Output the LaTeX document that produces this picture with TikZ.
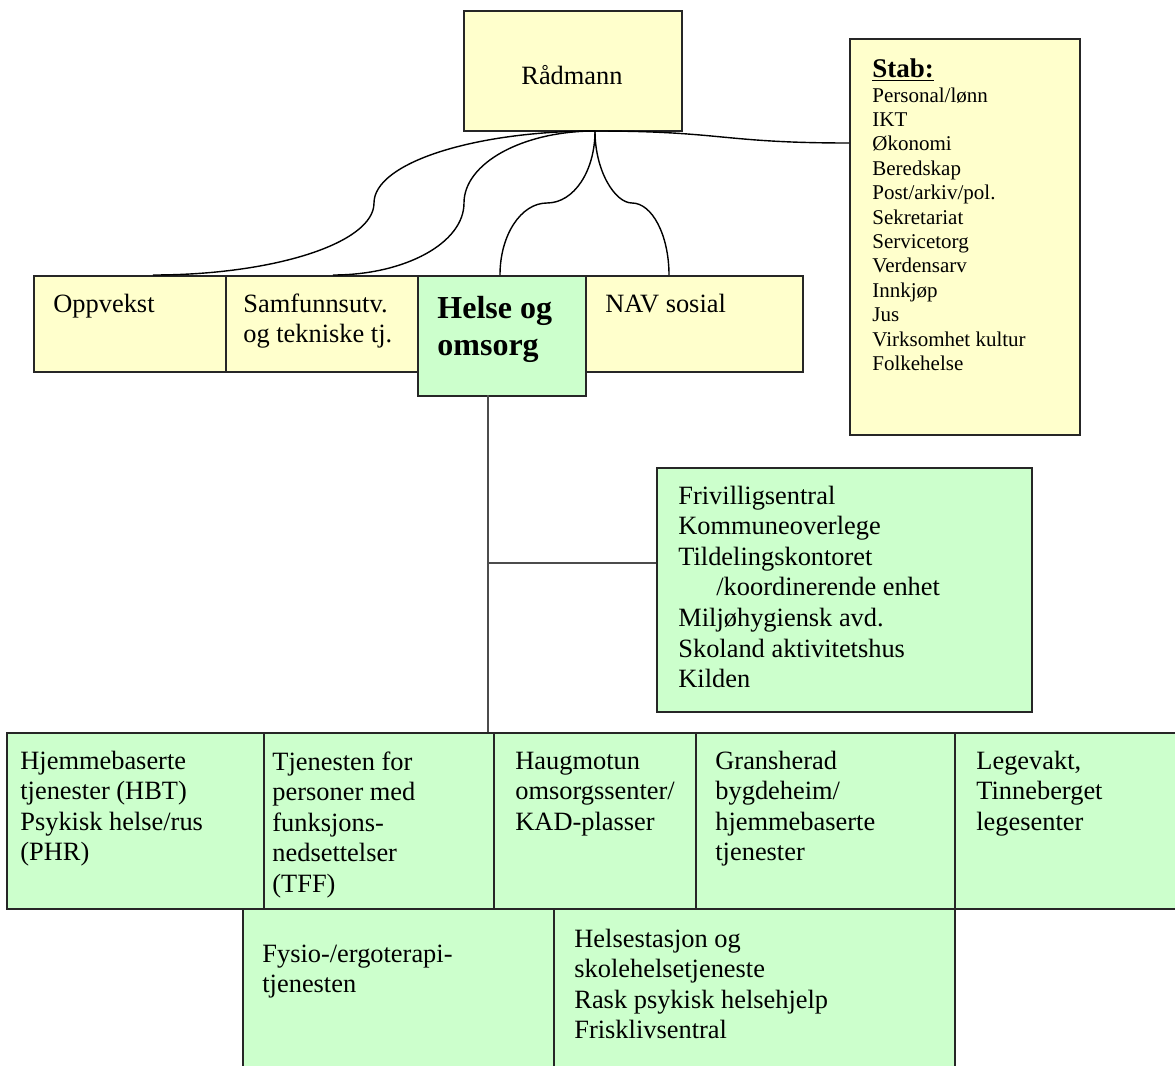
\documentclass[tikz,border=0pt]{standalone}
\usepackage{fontspec}
\setmainfont{Liberation Serif}
\definecolor{yel}{HTML}{FFFFCC}
\definecolor{grn}{HTML}{CCFFCC}
\begin{document}
\begin{tikzpicture}[x=0.5pt,y=-0.5pt,
  box/.style={draw=black!85,line width=0.9pt,inner sep=0pt,anchor=north west},
  ybox/.style={box,fill=yel},
  gbox/.style={box,fill=grn},
  txt/.style={inner sep=0pt,anchor=base west,align=left,font=\fontsize{13.2}{15.3}\selectfont},
  conn/.style={line width=0.7pt,draw=black}]
\useasboundingbox (0,0) rectangle (1175,1066);
% top boxes
\node[ybox,minimum width=109pt,minimum height=60pt] (rad) at (463,10) {};
\node[ybox,minimum width=115pt,minimum height=198pt] (stab) at (849,38) {};
\node[ybox,minimum width=96pt,minimum height=48pt] (opp) at (33,275) {};
\node[ybox,minimum width=96pt,minimum height=48pt] (samf) at (225,275) {};
\node[ybox,minimum width=108.5pt,minimum height=48pt] (nav) at (585,275) {};
\node[gbox,minimum width=84pt,minimum height=60pt] (helse) at (417,275) {};
% green side box
\node[gbox,minimum width=187.5pt,minimum height=122pt] (side) at (656,467) {};
% bottom rows
\node[gbox,minimum width=128.5pt,minimum height=88pt] (b1) at (6,732) {};
\node[gbox,minimum width=115pt,minimum height=88pt] (b2) at (263,732) {};
\node[gbox,minimum width=101pt,minimum height=88pt] (b3) at (493,732) {};
\node[gbox,minimum width=129.5pt,minimum height=88pt] (b4) at (695,732) {};
\node[gbox,minimum width=113pt,minimum height=88pt] (b5) at (954,732) {};
\node[gbox,minimum width=155.5pt,minimum height=81pt] (c1) at (242,908) {};
\node[gbox,minimum width=200.5pt,minimum height=81pt] (c2) at (553,908) {};
% texts (anchor = baseline of the last line)
\node[txt,anchor=base] (tRad) at (572,84) {Rådmann};
\node[txt,font=\fontsize{13.5}{15}\selectfont\bfseries] (tStabH) at (872,77) {\underline{Stab:}};
\node[txt,font=\fontsize{10.5}{12.2}\selectfont] (tStab) at (872,370.4) {Personal/lønn\\IKT\\Økonomi\\Beredskap\\Post/arkiv/pol.\\Sekretariat\\Servicetorg\\Verdensarv\\Innkjøp\\Jus\\Virksomhet kultur\\Folkehelse};
\node[txt] (tOpp) at (53,312) {Oppvekst};
\node[txt] (tSamf) at (243,342.6) {Samfunnsutv.\\og tekniske tj.};
\node[txt,font=\fontsize{16}{18.5}\selectfont\bfseries] (tHelse) at (437,355) {Helse og\\omsorg};
\node[txt] (tNav) at (605,312) {NAV sosial};
\node[txt] (tSide) at (678,687.6) {Frivilligsentral\\Kommuneoverlege\\Tildelingskontoret\\\hspace*{19pt}/koordinerende enhet\\Miljøhygiensk avd.\\Skoland aktivitetshus\\Kilden};
\node[txt] (tB1) at (20,860.8) {Hjemmebaserte\\tjenester (HBT)\\Psykisk helse/rus\\(PHR)};
\node[txt] (tB2) at (272,892.4) {Tjenesten for\\personer med\\funksjons-\\nedsettelser\\(TFF)};
\node[txt] (tB3) at (515,830.2) {Haugmotun\\omsorgssenter/\\KAD-plasser};
\node[txt] (tB4) at (715,860.8) {Gransherad\\bygdeheim/\\hjemmebaserte\\tjenester};
\node[txt] (tB5) at (976,830.2) {Legevakt,\\Tinneberget\\legesenter};
\node[txt] (tC1) at (262,992.6) {Fysio-/ergoterapi-\\tjenesten};
\node[txt] (tC2) at (574,1038.8) {Helsestasjon og\\skolehelsetjeneste\\Rask psykisk helsehjelp\\Frisklivsentral};
% connector points
\coordinate (hub) at (595,131);
\coordinate (eOpp) at (153,275);
\coordinate (eSamf) at (333,275);
\coordinate (eHelse) at (500,275);
\coordinate (eNav) at (669,275);
\coordinate (eStab) at (849,143);
\coordinate (vTop) at (488,395);
\coordinate (vMid) at (488,563);
\coordinate (vBot) at (488,732);
\coordinate (eSide) at (656,563);
% connectors
\draw[conn] (hub) .. controls (474,131) and (374,163) .. (374,203) .. controls (374,243) and (274,275) .. (eOpp);
\draw[conn] (hub) .. controls (523,131) and (464,163) .. (464,203) .. controls (464,243) and (405,275) .. (eSamf);
\draw[conn] (hub) .. controls (595,171) and (574,203) .. (547,203) .. controls (521,203) and (500,235) .. (eHelse);
\draw[conn] (hub) .. controls (595,171) and (615,203) .. (632,203) .. controls (652,203) and (669,235) .. (eNav);
\draw[conn] (hub) .. controls (722,131) and (722,143) .. (eStab);
\draw[conn,draw=black!70,line width=0.9pt] (vTop) -- (vBot);
\draw[conn,draw=black!70,line width=0.9pt] (vMid) -- (eSide);
\end{tikzpicture}
\end{document}
